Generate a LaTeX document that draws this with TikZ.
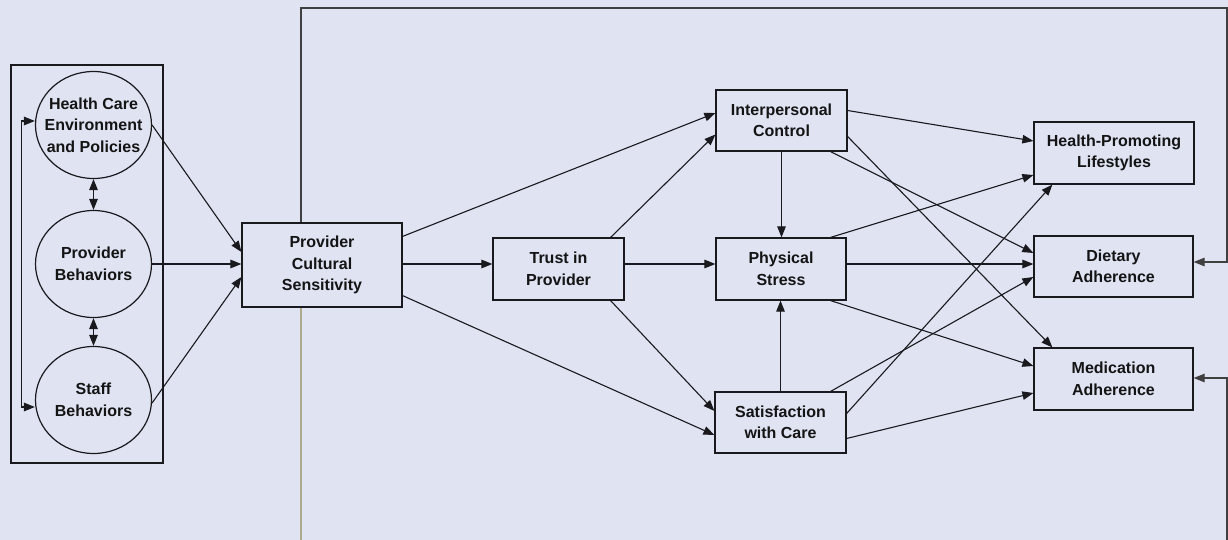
\documentclass[tikz,border=0pt]{standalone}
\usepackage{fontspec}
\setmainfont{Liberation Sans}
\usetikzlibrary{arrows.meta,shapes.geometric,calc}
\definecolor{bgc}{RGB}{224,227,242}
\definecolor{linec}{RGB}{25,25,30}
\definecolor{tanc}{RGB}{176,170,140}
\begin{document}
\begin{tikzpicture}[x=1pt,y=-1pt,
  every node/.style={font=\fontsize{16}{21.5}\selectfont\bfseries, text=black!92, align=center, inner sep=0pt},
  box/.style={draw=linec, line width=1.2pt, rectangle},
  circ/.style={draw=linec, line width=1.2pt, ellipse, minimum width=116pt, minimum height=107pt},
  arr/.style={draw=linec, line width=1.1pt, -{Triangle[length=11pt,width=8.5pt]}},
  darr/.style={draw=linec, line width=1.1pt, {Triangle[length=11pt,width=8.5pt]}-{Triangle[length=11pt,width=8.5pt]}},
  ln/.style={draw=linec, line width=1.1pt}]
\fill[bgc] (0,0) rectangle (1228,540);
\useasboundingbox (0,0) rectangle (1228,540);
% left group
\draw[ln, line width=1.2pt] (11,65) rectangle (163,463);
\node[circ] (hce) at (93.5,125) {};
\node[circ] (pb) at (93.5,264) {};
\node[circ] (sb) at (93.5,400) {};
\node (hcet) at (hce.center) {Health Care\\Environment\\and Policies};
\node (pbt) at (pb.center) {Provider\\Behaviors};
\node (sbt) at (sb.center) {Staff\\Behaviors};
% boxes
\node[box, minimum width=160pt, minimum height=84pt] (pcs) at (322,265) {Provider\\Cultural\\Sensitivity};
\node[box, minimum width=131pt, minimum height=62pt] (tr) at (558.5,269) {Trust in\\Provider};
\node[box, minimum width=131pt, minimum height=61pt] (ic) at (781.5,120.5) {Interpersonal\\Control};
\node[box, minimum width=130pt, minimum height=62pt] (ps) at (781,269) {Physical\\Stress};
\node[box, minimum width=131pt, minimum height=61pt] (sc) at (780.5,422.5) {Satisfaction\\with Care};
\node[box, minimum width=160pt, minimum height=62pt] (hp) at (1114,153) {Health-Promoting\\Lifestyles};
\node[box, minimum width=159pt, minimum height=61pt] (da) at (1113.5,266.5) {Dietary\\Adherence};
\node[box, minimum width=159pt, minimum height=62pt] (ma) at (1113.5,379) {Medication\\Adherence};
% frame coordinates
\coordinate (tr0) at (1227,8);
\coordinate (bl) at (301,540);
\coordinate (br) at (1227,540);
% frame lines
\draw[ln, draw=tanc, line width=1.3pt] ([xshift=-21pt]pcs.south) -- (bl);
\draw[draw=black!20, line width=0.8pt] (bl) -- (br);
\draw[arr, draw=black!75] ([xshift=-21pt]pcs.north) |- (tr0) |- ([yshift=4.5pt]da.east);
\draw[arr, draw=black!75] (br) |- ([yshift=1pt]ma.east);
% left arrows
\draw[darr] (hce.south) -- (pb.north);
\draw[darr] (pb.south) -- (sb.north);
\draw[darr] ([yshift=4pt]hce.west) -- ++(-13,0) |- ([yshift=-7pt]sb.west);
\draw[arr] (hce.east) -- ([yshift=13pt]pcs.west);
\draw[arr] (pb.east) -- (pcs.west |- pb.east);
\draw[arr] ([yshift=-3pt]sb.east) -- ([yshift=-12pt]pcs.west);
% middle
\draw[arr] ([yshift=1pt]pcs.east) -- ([yshift=5pt]tr.west);
\draw[arr] ([yshift=-14pt]pcs.north east) -- ([yshift=7.5pt]ic.west);
\draw[arr] ([yshift=12pt]pcs.south east) -- ([yshift=-12.5pt]sc.west);
\draw[arr] ([xshift=-14pt]tr.north east) -- ([yshift=-14pt]ic.west);
\draw[arr] ([yshift=5pt]tr.east) -- ([yshift=5pt]ps.west);
\draw[arr] ([xshift=-14pt]tr.south east) -- ([yshift=11.5pt]sc.west);
\draw[arr] (ic.south) -- (ic.south |- ps.north);
\draw[arr] (sc.north) -- (sc.north |- ps.south);
% right
\draw[arr] ([yshift=10pt]ic.east) -- ([yshift=12pt]hp.west);
\draw[arr] ([xshift=-17pt]ic.south east) -- ([yshift=13.5pt]da.west);
\draw[arr] ([yshift=-16pt]ic.east) -- ([xshift=19pt]ma.north west);
\draw[arr] ([xshift=-16pt]ps.north east) -- ([yshift=-22pt]hp.west);
\draw[arr] ([yshift=5pt]ps.east) -- ([yshift=2.5pt]da.west);
\draw[arr] ([xshift=-16pt]ps.south east) -- ([yshift=13pt]ma.west);
\draw[arr] ([yshift=9pt]sc.east) -- ([xshift=19pt]hp.south west);
\draw[arr] ([xshift=-16pt]sc.north east) -- ([yshift=-10.5pt]da.west);
\draw[arr] ([yshift=-16pt]sc.east) -- ([yshift=-14pt]ma.west);
\end{tikzpicture}
\end{document}
